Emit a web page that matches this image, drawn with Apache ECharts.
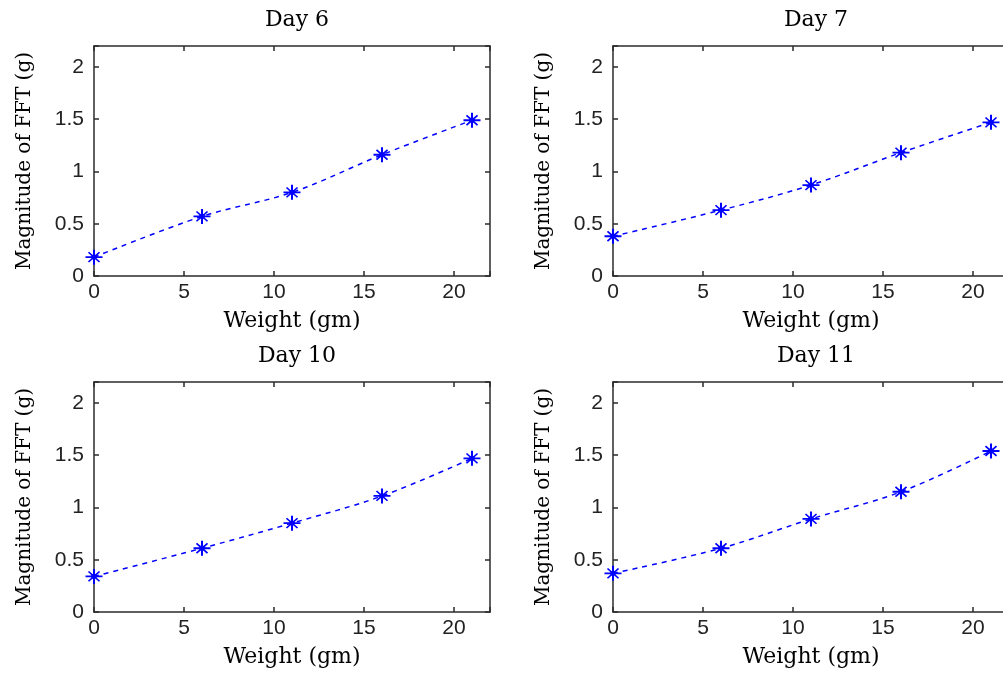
<!DOCTYPE html>
<html>
<head>
<meta charset="utf-8">
<script src="https://cdn.jsdelivr.net/npm/echarts@6/dist/echarts.min.js"></script>
<style>
html, body { margin: 0; padding: 0; background: #fff; }
#chart { width: 1003px; height: 679px; }
</style>
</head>
<body>
<div id="chart"></div>
<script>
// ---- data ----
var weights = [0, 6, 11, 16, 21];
var day6  = [0.18, 0.57, 0.80, 1.16, 1.49];
var day7  = [0.38, 0.63, 0.87, 1.18, 1.47];
var day10 = [0.34, 0.61, 0.85, 1.11, 1.47];
var day11 = [0.37, 0.61, 0.89, 1.15, 1.54];
var panelTitles = ['Day 6', 'Day 7', 'Day 10', 'Day 11'];
var panelValues = [day6, day7, day10, day11];
var xTicks = [0, 5, 10, 15, 20];
var yTicks = [0, 0.5, 1, 1.5, 2];
var xLabel = 'Weight (gm)';
var yLabel = 'Magnitude of FFT (g)';

// ---- layout ----
var grids = [
  { left: 94,  top: 46,  width: 396, height: 230 },
  { left: 613, top: 46,  width: 396, height: 230 },
  { left: 94,  top: 382, width: 396, height: 230 },
  { left: 613, top: 382, width: 396, height: 230 }
];
var titleTops = [4, 4, 340, 340];

var ASTERISK = 'path://M0,44 L100,44 L100,56 L0,56 Z M44,0 L56,0 L56,100 L44,100 Z ' +
  'M14,21 L21,14 L86,79 L79,86 Z M79,14 L86,21 L21,86 L14,79 Z M34,34 L66,34 L66,66 L34,66 Z';

var axisColor = '#2b2b2b';
function tickFmt(step) {
  return function (v) {
    var r = v / step;
    return Math.abs(r - Math.round(r)) < 1e-6 ? String(+v.toFixed(2)) : '';
  };
}

var option = {
  backgroundColor: '#ffffff',
  animation: false,
  title: [],
  grid: [],
  xAxis: [],
  yAxis: [],
  series: []
};

grids.forEach(function (g, i) {
  option.grid.push({
    left: g.left, top: g.top, width: g.width, height: g.height,
    containLabel: false, outerBoundsMode: 'none'
  });
  option.title.push({
    text: panelTitles[i],
    left: g.left + g.width / 2,
    top: titleTops[i],
    textAlign: 'center',
    textStyle: { fontFamily: 'DejaVu Serif', fontSize: 22, fontWeight: 'normal', color: '#000' }
  });
  var common = {
    type: 'value',
    gridIndex: i,
    axisLine: { show: true, onZero: false, lineStyle: { color: axisColor, width: 1.5 } },
    axisTick: { show: true, inside: true, length: 5, lineStyle: { color: axisColor, width: 1.5 } },
    splitLine: { show: false }
  };
  option.xAxis.push(Object.assign({}, common, {
    position: 'bottom',
    min: 0, max: 22, interval: 5,
    name: xLabel,
    nameLocation: 'middle',
    nameGap: 34,
    nameTextStyle: { fontFamily: 'DejaVu Serif', fontSize: 22, color: '#000' },
    axisLabel: { show: true, margin: 6, formatter: tickFmt(5), fontFamily: 'Liberation Sans', fontSize: 21, color: '#222' }
  }));
  option.xAxis.push(Object.assign({}, common, {
    position: 'top',
    min: 0, max: 22, interval: 5,
    axisLabel: { show: false }
  }));
  option.yAxis.push(Object.assign({}, common, {
    position: 'left',
    min: 0, max: 2.2, interval: 0.5,
    name: yLabel,
    nameLocation: 'middle',
    nameGap: 59,
    nameTextStyle: { fontFamily: 'DejaVu Serif', fontSize: 20, color: '#000' },
    axisLabel: { show: true, margin: 10, formatter: tickFmt(0.5), fontFamily: 'Liberation Sans', fontSize: 21, color: '#222' }
  }));
  option.yAxis.push(Object.assign({}, common, {
    position: 'right',
    min: 0, max: 2.2, interval: 0.5,
    axisLabel: { show: false }
  }));

  var vals = panelValues[i];
  option.series.push({
    type: 'line',
    xAxisIndex: i * 2,
    yAxisIndex: i * 2,
    data: weights.map(function (w, k) { return [w, vals[k]]; }),
    smooth: 0.35,
    clip: false,
    symbol: ASTERISK,
    symbolSize: [17, 15],
    itemStyle: { color: '#0000ff' },
    lineStyle: { color: '#0000ff', width: 1.5, type: [5, 5] },
    z: 3
  });
});

var chart = echarts.init(document.getElementById('chart'), null, { renderer: 'canvas' });
chart.setOption(option);
</script>
</body>
</html>
